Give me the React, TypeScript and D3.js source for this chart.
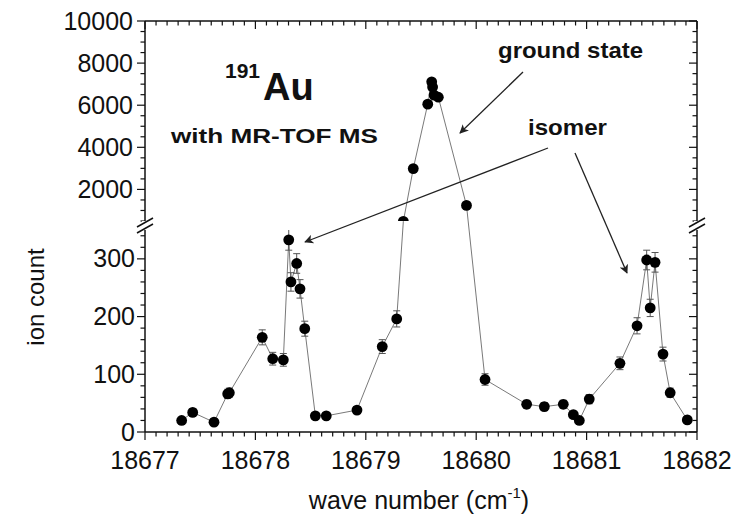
import React from "react";
import * as d3 from "d3";

// Resonance ionisation scan of 191Au, counts recorded with the MR-TOF MS
const waveNumbers = [
  18677.332, 18677.432, 18677.625, 18677.749, 18677.764, 18678.062, 18678.157, 18678.253,
  18678.302, 18678.322, 18678.374, 18678.404, 18678.447, 18678.543, 18678.642, 18678.92,
  18679.149, 18679.28, 18679.34, 18679.43, 18679.561, 18679.597, 18679.605, 18679.618,
  18679.657, 18679.912, 18680.08, 18680.457, 18680.617, 18680.789, 18680.88, 18680.934,
  18681.024, 18681.302, 18681.457, 18681.544, 18681.576, 18681.62, 18681.692, 18681.757,
  18681.912,
];
const ionCounts = [
  20, 34, 17, 66, 68, 164, 127, 125, 333, 260, 292, 248, 179, 28, 28, 38, 148, 196, 480, 2990,
  6050, 7110, 6860, 6480, 6380, 1240, 91, 48, 44, 48, 30, 20, 57, 119, 184, 298, 215, 294, 135,
  68, 21,
];
const countErrors = [
  4, 6, 4, 8, 8, 13, 11, 11, 18, 16, 17, 16, 13, 5, 5, 6, 12, 14, 22, 55, 78, 84, 83, 80, 80, 35,
  10, 7, 7, 7, 5, 4, 8, 11, 14, 17, 15, 17, 12, 8, 5,
];

const xTicks = [18677, 18678, 18679, 18680, 18681, 18682];
const lowerTicks = [0, 100, 200, 300];
const upperTicks = [2000, 4000, 6000, 8000, 10000];

const W = 735;
const H = 521;
const L = 145;
const R = 697;
const T = 21;
const B = 432;
const upperBottom = 221;
const lowerTop = 230;
const breakValue = 350;

const FONT = "'Liberation Sans', Arial, Helvetica, sans-serif";

const x = d3.scaleLinear().domain([18677, 18682]).range([L, R]);
const yLow = d3.scaleLinear().domain([0, breakValue]).range([B, lowerTop]);
const yHigh = d3.scaleLinear().domain([500, 10000]).range([upperBottom, T]);
const yAny = (v: number) => (v <= breakValue ? yLow(v) : yHigh(v));

const points = waveNumbers.map((w, i) => ({ w, c: ionCounts[i], e: countErrors[i] }));

function range(a: number, b: number, step: number) {
  const out: number[] = [];
  for (let v = a; v <= b + 1e-9; v += step) out.push(+v.toFixed(4));
  return out;
}

const xMinor = range(18677, 18682, 0.1).filter((v) => Math.abs(v - Math.round(v)) > 1e-6);
const lowMinor = range(0, 340, 20).filter((v) => v % 100 !== 0);
const highMinor = range(500, 10000, 500).filter((v) => v % 2000 !== 0);

export default function App() {
  const line = d3
    .line<{ w: number; c: number }>()
    .x((d) => x(d.w))
    .y((d) => yAny(d.c));

  const majorLen = 8;
  const minorLen = 4.5;
  const axisColor = "#111";
  const markerColor = "#000";
  const lineColor = "#6a6a6a";

  const breakSlashes = (cx: number) => (
    <g key={`brk-${cx}`}>
      <rect x={cx - 3} y={upperBottom} width={6} height={lowerTop - upperBottom} fill="#fff" />
      <line x1={cx - 8} y1={227} x2={cx + 8} y2={218} stroke={axisColor} strokeWidth={1.5} />
      <line x1={cx - 8} y1={233} x2={cx + 8} y2={224} stroke={axisColor} strokeWidth={1.5} />
    </g>
  );

  return (
    <svg
      width={W}
      height={H}
      viewBox={`0 0 ${W} ${H}`}
      style={{ position: "absolute", left: 0, top: 0, background: "#fff" }}
      fontFamily={FONT}
    >
      <defs>
        <clipPath id="clipUpper">
          <rect x={L - 10} y={T - 10} width={R - L + 20} height={upperBottom - T + 10} />
        </clipPath>
        <clipPath id="clipLower">
          <rect x={L - 10} y={lowerTop} width={R - L + 20} height={B - lowerTop + 10} />
        </clipPath>
        <marker
          id="arrowHead"
          viewBox="0 0 10 10"
          refX="9"
          refY="5"
          markerWidth="9"
          markerHeight="9"
          markerUnits="userSpaceOnUse"
          orient="auto"
        >
          <path d="M0,0 L10,5 L0,10 L2.5,5 Z" fill="#222" />
        </marker>
      </defs>

      {/* connecting line */}
      <path d={line(points) || ""} fill="none" stroke={lineColor} strokeWidth={0.9} />

      {/* error bars and markers, split by axis segment */}
      {[
        { id: "clipUpper", sel: (c: number) => c > breakValue, ys: yHigh },
        { id: "clipLower", sel: (c: number) => c <= breakValue, ys: yLow },
      ].map((seg) => (
        <g key={seg.id} clipPath={`url(#${seg.id})`}>
          {points
            .filter((p) => seg.sel(p.c))
            .map((p, i) => {
              const px = x(p.w);
              const y1 = seg.ys(p.c + p.e);
              const y2 = seg.ys(p.c - p.e);
              return (
                <g key={i} stroke="#555" strokeWidth={1}>
                  <line x1={px} x2={px} y1={y1} y2={y2} />
                  <line x1={px - 3.5} x2={px + 3.5} y1={y1} y2={y1} />
                  <line x1={px - 3.5} x2={px + 3.5} y1={y2} y2={y2} />
                </g>
              );
            })}
          {points
            .filter((p) => seg.sel(p.c))
            .map((p, i) => (
              <circle key={i} cx={x(p.w)} cy={seg.ys(p.c)} r={5.4} fill={markerColor} />
            ))}
        </g>
      ))}

      {/* frame */}
      <g stroke={axisColor} strokeWidth={1.5} fill="none">
        <line x1={L} x2={R} y1={T} y2={T} />
        <line x1={L} x2={R} y1={B} y2={B} />
        <line x1={L} x2={L} y1={T} y2={B} />
        <line x1={R} x2={R} y1={T} y2={B} />
      </g>

      {/* x ticks: bottom outward, top inward */}
      <g stroke={axisColor} strokeWidth={1.2}>
        {xTicks.map((v) => (
          <g key={`xt${v}`}>
            <line x1={x(v)} x2={x(v)} y1={B} y2={B + majorLen} />
            <line x1={x(v)} x2={x(v)} y1={T} y2={T + majorLen} />
          </g>
        ))}
        {xMinor.map((v) => (
          <g key={`xm${v}`}>
            <line x1={x(v)} x2={x(v)} y1={B} y2={B + minorLen} />
            <line x1={x(v)} x2={x(v)} y1={T} y2={T + minorLen} />
          </g>
        ))}
      </g>

      {/* y ticks: left outward, right inward */}
      <g stroke={axisColor} strokeWidth={1.2}>
        {lowerTicks.map((v) => (
          <g key={`yl${v}`}>
            <line x1={L - majorLen} x2={L} y1={yLow(v)} y2={yLow(v)} />
            <line x1={R - majorLen} x2={R} y1={yLow(v)} y2={yLow(v)} />
          </g>
        ))}
        {lowMinor.map((v) => (
          <g key={`ylm${v}`}>
            <line x1={L - minorLen} x2={L} y1={yLow(v)} y2={yLow(v)} />
            <line x1={R - minorLen} x2={R} y1={yLow(v)} y2={yLow(v)} />
          </g>
        ))}
        {upperTicks.map((v) => (
          <g key={`yu${v}`}>
            <line x1={L - majorLen} x2={L} y1={yHigh(v)} y2={yHigh(v)} />
            <line x1={R - majorLen} x2={R} y1={yHigh(v)} y2={yHigh(v)} />
          </g>
        ))}
        {highMinor.map((v) => (
          <g key={`yum${v}`}>
            <line x1={L - minorLen} x2={L} y1={yHigh(v)} y2={yHigh(v)} />
            <line x1={R - minorLen} x2={R} y1={yHigh(v)} y2={yHigh(v)} />
          </g>
        ))}
      </g>

      {breakSlashes(L)}
      {breakSlashes(R)}

      {/* tick labels */}
      <g fontSize={25} fill="#111">
        {xTicks.map((v) => (
          <text key={`xl${v}`} x={x(v)} y={469} textAnchor="middle">
            {v}
          </text>
        ))}
        {lowerTicks.map((v) => (
          <text key={`yll${v}`} x={L - 10} y={yLow(v) + 8.5} textAnchor="end">
            {v}
          </text>
        ))}
        {upperTicks.map((v) => (
          <text key={`yul${v}`} x={L - 12} y={yHigh(v) + 8.5} textAnchor="end">
            {v}
          </text>
        ))}
      </g>

      {/* axis titles */}
      <text x={419} y={509} textAnchor="middle" fontSize={25} fill="#111">
        wave number (cm
        <tspan dy={-11} fontSize={15}>
          -1
        </tspan>
        <tspan dy={11}>)</tspan>
      </text>
      <text
        transform={`translate(44, 297) rotate(-90)`}
        textAnchor="middle"
        fontSize={24}
        fill="#111"
      >
        ion count
      </text>

      {/* annotations */}
      <g fontWeight="bold" fill="#111">
        <text x={225} y={78} fontSize={21}>
          191
        </text>
        <text x={263} y={100} fontSize={38}>
          Au
        </text>
        <text x={171} y={143} fontSize={21} textLength={207} lengthAdjust="spacingAndGlyphs">
          with MR-TOF MS
        </text>
        <text x={498} y={58} fontSize={22} textLength={145} lengthAdjust="spacingAndGlyphs">
          ground state
        </text>
        <text x={528} y={135} fontSize={22} textLength={79} lengthAdjust="spacingAndGlyphs">
          isomer
        </text>
      </g>

      <g stroke="#222" strokeWidth={1.3} markerEnd="url(#arrowHead)">
        <line x1={523} y1={72} x2={460} y2={133} />
        <line x1={548} y1={148} x2={305} y2={242} />
        <line x1={575} y1={153} x2={627} y2={273} />
      </g>
    </svg>
  );
}
